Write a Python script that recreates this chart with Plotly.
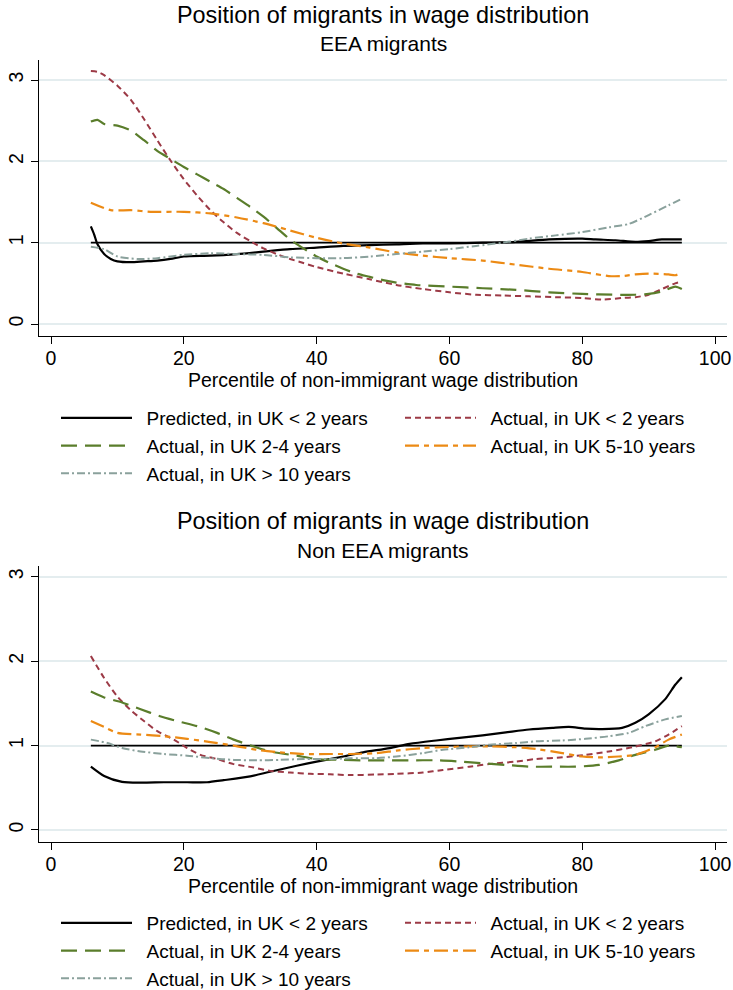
import plotly.graph_objects as go

# ---------------- EEA migrants ----------------
eea_pred_x = [6, 6.5, 7, 8, 9, 10, 12, 14, 16, 18, 20, 24, 28, 32, 36, 40, 44, 48, 52, 56, 60, 65, 70, 75, 80, 82, 85, 88, 90, 92, 95]
eea_pred_y = [1.20, 1.10, 0.98, 0.86, 0.80, 0.77, 0.76, 0.77, 0.78, 0.80, 0.83, 0.84, 0.86, 0.89, 0.92, 0.94, 0.96, 0.97, 0.98, 0.99, 0.99, 1.00, 1.01, 1.04, 1.05, 1.04, 1.03, 1.01, 1.02, 1.04, 1.04]

eea_lt2_x = [6, 7, 8, 10, 12, 14, 16, 18, 20, 22, 24, 26, 28, 30, 32, 34, 36, 38, 40, 44, 48, 52, 56, 60, 64, 68, 72, 76, 80, 83, 86, 88, 90, 92, 94, 95]
eea_lt2_y = [3.11, 3.10, 3.06, 2.93, 2.76, 2.52, 2.26, 2.01, 1.78, 1.58, 1.40, 1.25, 1.12, 1.02, 0.93, 0.86, 0.80, 0.75, 0.70, 0.62, 0.55, 0.48, 0.43, 0.39, 0.36, 0.35, 0.34, 0.33, 0.32, 0.30, 0.32, 0.33, 0.36, 0.43, 0.50, 0.52]

eea_2to4_x = [6, 7, 8, 10, 12, 14, 16, 18, 20, 22, 24, 26, 28, 30, 32, 34, 36, 38, 40, 42, 44, 46, 48, 50, 52, 55, 60, 65, 70, 75, 80, 85, 88, 90, 92, 94, 95]
eea_2to4_y = [2.49, 2.51, 2.46, 2.44, 2.38, 2.26, 2.13, 2.03, 1.93, 1.84, 1.75, 1.66, 1.55, 1.44, 1.32, 1.18, 1.04, 0.93, 0.83, 0.75, 0.68, 0.62, 0.58, 0.54, 0.51, 0.48, 0.46, 0.44, 0.42, 0.39, 0.37, 0.36, 0.36, 0.37, 0.40, 0.46, 0.43]

eea_5to10_x = [6, 9, 12, 15, 20, 24, 28, 32, 36, 40, 44, 48, 52, 56, 60, 65, 70, 75, 80, 84, 86, 88, 90, 93, 94, 95]
eea_5to10_y = [1.49, 1.40, 1.40, 1.38, 1.38, 1.36, 1.31, 1.24, 1.15, 1.06, 0.99, 0.94, 0.88, 0.84, 0.81, 0.78, 0.73, 0.68, 0.64, 0.59, 0.59, 0.61, 0.62, 0.61, 0.60, 0.63]

eea_gt10_x = [6, 8, 10, 13, 16, 20, 24, 28, 32, 36, 40, 44, 48, 52, 56, 60, 64, 68, 72, 76, 80, 84, 87, 90, 93, 95]
eea_gt10_y = [0.95, 0.92, 0.83, 0.80, 0.81, 0.85, 0.87, 0.86, 0.85, 0.82, 0.81, 0.81, 0.83, 0.86, 0.89, 0.92, 0.96, 1.00, 1.05, 1.09, 1.13, 1.19, 1.23, 1.34, 1.46, 1.54]

# ---------------- Non EEA migrants ----------------
neea_pred_x = [6, 8, 10.7, 13.5, 17, 20.5, 23.5, 26, 30, 33, 37, 40, 44, 47, 51, 54, 58, 61.5, 65, 68.5, 72, 75.5, 78, 80.5, 83, 86, 88, 90, 92.5, 94, 95]
neea_pred_y = [0.75, 0.64, 0.57, 0.56, 0.565, 0.565, 0.565, 0.59, 0.635, 0.69, 0.76, 0.81, 0.87, 0.92, 0.97, 1.02, 1.06, 1.09, 1.12, 1.155, 1.19, 1.21, 1.22, 1.20, 1.195, 1.21, 1.27, 1.37, 1.55, 1.72, 1.81]

neea_lt2_x = [6, 8, 10, 12, 14, 16, 18.5, 20.5, 22.5, 25, 27.5, 30.5, 33, 36, 39, 42, 45, 49, 52, 56, 59, 63, 66, 70, 73, 77, 80.5, 84, 87.5, 91, 93, 95]
neea_lt2_y = [2.06, 1.80, 1.58, 1.42, 1.29, 1.17, 1.07, 0.97, 0.89, 0.84, 0.78, 0.74, 0.70, 0.68, 0.665, 0.66, 0.65, 0.657, 0.665, 0.68, 0.71, 0.75, 0.78, 0.81, 0.84, 0.86, 0.89, 0.93, 0.98, 1.05, 1.13, 1.23]

neea_2to4_x = [6, 8, 10.7, 13.5, 16.3, 19, 22, 25, 27.5, 30.5, 33, 37, 40, 44, 47, 51, 54, 58, 61.5, 65, 68.5, 72, 75.5, 79, 82.5, 85.5, 88, 91, 93, 95]
neea_2to4_y = [1.64, 1.57, 1.51, 1.43, 1.35, 1.29, 1.23, 1.15, 1.07, 0.99, 0.93, 0.88, 0.84, 0.83, 0.825, 0.825, 0.825, 0.825, 0.81, 0.79, 0.77, 0.75, 0.75, 0.75, 0.77, 0.825, 0.89, 0.95, 1.00, 0.98]

neea_5to10_x = [6, 8, 10, 13.5, 17, 20.5, 24, 27.5, 31, 34.5, 38, 42, 45, 49, 52, 56, 59, 63, 66, 70, 73, 77, 80, 82.5, 85.5, 88, 91, 93, 95]
neea_5to10_y = [1.29, 1.22, 1.15, 1.13, 1.11, 1.08, 1.04, 1.00, 0.95, 0.92, 0.90, 0.90, 0.90, 0.91, 0.94, 0.97, 0.98, 0.99, 0.99, 0.98, 0.96, 0.91, 0.87, 0.86, 0.87, 0.89, 0.98, 1.07, 1.13]

neea_gt10_x = [6, 8.5, 10.7, 13.5, 17, 20.5, 24, 27.5, 31, 34.5, 38, 42, 45, 49, 52, 56, 59, 63, 66, 70, 73, 77, 80.5, 84, 87, 89.5, 92.5, 95]
neea_gt10_y = [1.07, 1.03, 0.97, 0.93, 0.90, 0.88, 0.85, 0.83, 0.825, 0.83, 0.84, 0.84, 0.85, 0.85, 0.87, 0.91, 0.95, 0.98, 1.01, 1.03, 1.05, 1.06, 1.08, 1.11, 1.15, 1.23, 1.31, 1.35]

# reference ratio of one, drawn across the plotted percentile span
ref_x = [6, 95]
ref_y = [1, 1]

series_names = [
    "Predicted, in UK < 2 years",
    "Actual, in UK < 2 years",
    "Actual, in UK 2-4 years",
    "Actual, in UK 5-10 years",
    "Actual, in UK > 10 years",
]
panel_titles = ["Position of migrants in wage distribution", "Position of migrants in wage distribution"]
panel_subtitles = ["EEA migrants", "Non EEA migrants"]
x_title = "Percentile of non-immigrant wage distribution"
x_ticks = [0, 20, 40, 60, 80, 100]
y_ticks = [0, 1, 2, 3]

colors = ["#000000", "#9c3a46", "#5a7d2b", "#ec8a14", "#8aa19c"]
dashes = ["solid", "6px,4px", "16px,8px", "14px,5px,5px,5px", "8px,3px,2px,3px"]
widths = [2.2, 2.0, 2.2, 2.2, 2.0]

FONT = "Liberation Sans, Arial, Helvetica, sans-serif"
W, H = 733, 990
ML, MR = 38.7, 6.3
LEGEND_PAD = "\u2002"  # en space between the key sample and its label

panels = [
    dict(data=[(eea_pred_x, eea_pred_y), (eea_lt2_x, eea_lt2_y), (eea_2to4_x, eea_2to4_y),
               (eea_5to10_x, eea_5to10_y), (eea_gt10_x, eea_gt10_y)],
         xa="x", ya="y", legend="legend"),
    dict(data=[(neea_pred_x, neea_pred_y), (neea_lt2_x, neea_lt2_y), (neea_2to4_x, neea_2to4_y),
               (neea_5to10_x, neea_5to10_y), (neea_gt10_x, neea_gt10_y)],
         xa="x2", ya="y2", legend="legend2"),
]

fig = go.Figure()
for p in panels:
    fig.add_trace(go.Scatter(x=ref_x, y=ref_y, mode="lines", xaxis=p["xa"], yaxis=p["ya"],
                             line=dict(color="#000000", width=1.7), showlegend=False, hoverinfo="skip"))
    for i, (xs, ys) in enumerate(p["data"]):
        fig.add_trace(go.Scatter(
            x=xs, y=ys, mode="lines", name=LEGEND_PAD + series_names[i],
            xaxis=p["xa"], yaxis=p["ya"], legend=p["legend"],
            line=dict(color=colors[i], width=widths[i], dash=dashes[i], shape="spline", smoothing=0.7),
        ))


def px_to_paper_y(py):
    return (H - py) / H


x_common = dict(
    range=[-1.81, 101.8], tickvals=x_ticks, ticks="outside", ticklen=7, tickwidth=1.2,
    tickcolor="#000000", showline=True, linecolor="#000000", linewidth=1.3,
    showgrid=False, zeroline=False, ticklabelstandoff=-3,
    tickfont=dict(family=FONT, size=19.5, color="#000000"),
    title=dict(text=x_title, font=dict(family=FONT, size=19.5, color="#000000"), standoff=0),
)
y_common = dict(
    tickvals=y_ticks, ticks="outside", ticklen=7, tickwidth=1.2, tickcolor="#000000",
    tickangle=-90, showline=True, linecolor="#000000", linewidth=1.3,
    showgrid=True, gridcolor="#e4edef", gridwidth=1.6, zeroline=False,
    tickfont=dict(family=FONT, size=19.5, color="#000000"),
)

legend_common = dict(
    orientation="h", x=(55.7 - ML) / (W - ML - MR), xanchor="left", yanchor="top",
    entrywidth=258, entrywidthmode="pixels", itemwidth=71,
    font=dict(family=FONT, size=19, color="#000000"),
    bgcolor="rgba(0,0,0,0)", traceorder="normal",
)

fig.update_layout(
    width=W, height=H,
    margin=dict(l=ML, r=MR, t=0, b=0, autoexpand=False),
    paper_bgcolor="#ffffff", plot_bgcolor="#ffffff",
    font=dict(family=FONT, color="#000000"),
    xaxis=dict(x_common, anchor="y"),
    yaxis=dict(y_common, anchor="x", domain=[px_to_paper_y(336.3), px_to_paper_y(59.7)], range=[-0.151, 3.25]),
    xaxis2=dict(x_common, anchor="y2"),
    yaxis2=dict(y_common, anchor="x2", domain=[px_to_paper_y(842.3), px_to_paper_y(565.7)], range=[-0.146, 3.13]),
    legend=dict(legend_common, y=px_to_paper_y(399)),
    legend2=dict(legend_common, y=px_to_paper_y(904)),
    showlegend=True,
)

annotations = []
for title, sub, ty, sy in [(panel_titles[0], panel_subtitles[0], 15, 44),
                           (panel_titles[1], panel_subtitles[1], 521, 550)]:
    annotations.append(dict(text=title, x=0.5, y=px_to_paper_y(ty), xref="paper", yref="paper",
                            xanchor="center", yanchor="middle", showarrow=False,
                            font=dict(family=FONT, size=23.4, color="#000000")))
    annotations.append(dict(text=sub, x=0.5, y=px_to_paper_y(sy), xref="paper", yref="paper",
                            xanchor="center", yanchor="middle", showarrow=False,
                            font=dict(family=FONT, size=21, color="#000000")))
fig.update_layout(annotations=annotations)

fig.write_html("out.html")
